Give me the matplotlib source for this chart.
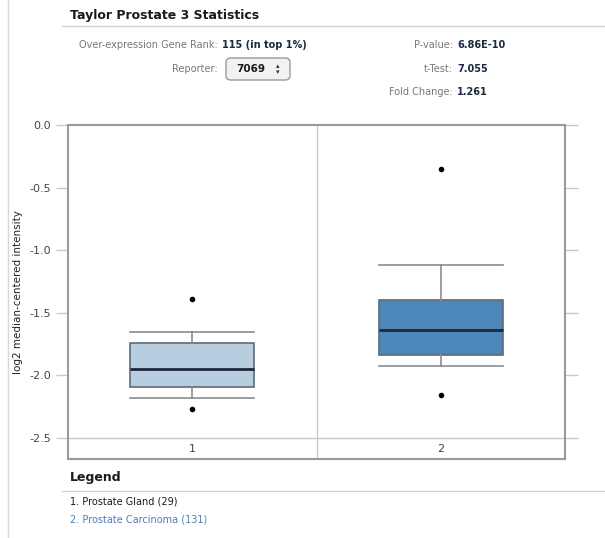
import matplotlib.pyplot as plt
from matplotlib.patches import FancyBboxPatch
from matplotlib.lines import Line2D

plt.rcParams['font.family'] = ['DejaVu Sans']

# box statistics per group
groups = ['1', '2']
whis_hi = [-1.656, -1.118]
q3 = [-1.744, -1.398]
medians = [-1.949, -1.640]
q1 = [-2.090, -1.837]
whis_lo = [-2.181, -1.922]
outliers = [[-1.39, -2.268], [-0.351, -2.154]]
box_colors = ['#b7cde0', '#4d86b8']

legend_names = ['1. Prostate Gland (29)', '2. Prostate Carcinoma (131)']
legend_colors = ['#1a1a1a', '#4a7fb5']

stats_left = [('Over-expression Gene Rank:', '115 (in top 1%)')]
reporter = '7069'
stats_right = [('P-value:', '6.86E-10'), ('t-Test:', '7.055'), ('Fold Change:', '1.261')]

W, H = 605, 538
fig = plt.figure(figsize=(W / 100, H / 100), dpi=100)


def fx(px):
    return px / W


def fy(py):
    return 1 - py / H


ax = fig.add_axes([fx(68), fy(459), fx(565) - fx(68), fy(125) - fy(459)])

bstats = []
for i in range(len(groups)):
    bstats.append(dict(med=medians[i], q1=q1[i], q3=q3[i], whislo=whis_lo[i],
                       whishi=whis_hi[i], fliers=outliers[i], label=groups[i]))

bp = ax.bxp(bstats, positions=[1, 2], widths=0.5, patch_artist=True,
            boxprops=dict(edgecolor='#5f6b78', linewidth=1.2),
            medianprops=dict(color='#1b2838', linewidth=2),
            whiskerprops=dict(color='#8c8c8c', linewidth=1.2),
            capprops=dict(color='#8c8c8c', linewidth=1.2),
            capwidths=0.5,
            flierprops=dict(marker='o', markersize=3, markerfacecolor='black',
                            markeredgecolor='black'))
for patch, c in zip(bp['boxes'], box_colors):
    patch.set_facecolor(c)

ax.set_xlim(0.5, 2.5)
ax.set_ylim(-2.668, 0)
ax.axvline(1.5, color='#c8c8c8', linewidth=1)
ax.axhline(-2.5, color='#c8c8c8', linewidth=1)

ax.set_yticks([0, -0.5, -1.0, -1.5, -2.0, -2.5])
ax.set_yticklabels(['0.0', '-0.5', '-1.0', '-1.5', '-2.0', '-2.5'])
ax.tick_params(axis='y', which='both', direction='out', length=9, width=1,
               color='#c8c8c8', labelsize=8, labelcolor='#444444', right=True, pad=3)
ax.set_xticks([])
for x, g in zip([1, 2], groups):
    ax.text(x, -2.585, g, ha='center', va='center', fontsize=8, color='#444444')

for s in ax.spines.values():
    s.set_color('#9a9a9a')
    s.set_linewidth(1.5)

ax.set_ylabel('log2 median-centered intensity', fontsize=7.5, color='#222222', labelpad=5)

# header block
fig.text(fx(70), fy(15), 'Taylor Prostate 3 Statistics', fontsize=9, fontweight='bold',
         color='#1a1a1a', va='center')
fig.add_artist(Line2D([fx(62), 1], [fy(26), fy(26)], color='#d0d0d0', linewidth=1))
fig.add_artist(Line2D([fx(8), fx(8)], [0, 1], color='#d8d8d8', linewidth=1))

for lab, val in stats_left:
    fig.text(fx(218), fy(45), lab, ha='right', va='center', fontsize=7, color='#777777')
    fig.text(fx(222), fy(45), val, ha='left', va='center', fontsize=7,
             fontweight='bold', color='#1a2a40')

fig.text(fx(218), fy(69), 'Reporter:', ha='right', va='center', fontsize=7, color='#777777')
fig.add_artist(FancyBboxPatch((fx(226), fy(80)), fx(290) - fx(226), fy(58) - fy(80),
                              boxstyle='round,pad=0,rounding_size=0.008',
                              facecolor='#f2f2f2', edgecolor='#9a9a9a', linewidth=1,
                              transform=fig.transFigure))
fig.text(fx(236), fy(69), reporter, ha='left', va='center', fontsize=7.5,
         fontweight='bold', color='#1a1a1a')
fig.text(fx(278), fy(66), '▴', ha='center', va='center', fontsize=5, color='#333333')
fig.text(fx(278), fy(72), '▾', ha='center', va='center', fontsize=5, color='#333333')

for k, (lab, val) in enumerate(stats_right):
    y = [45, 69, 92][k]
    fig.text(fx(453), fy(y), lab, ha='right', va='center', fontsize=7, color='#777777')
    fig.text(fx(457), fy(y), val, ha='left', va='center', fontsize=7,
             fontweight='bold', color='#1a2a40')

# legend block
fig.text(fx(70), fy(478), 'Legend', fontsize=9, fontweight='bold', color='#1a1a1a', va='center')
fig.add_artist(Line2D([fx(62), 1], [fy(491), fy(491)], color='#d0d0d0', linewidth=1))
for k, (name, c) in enumerate(zip(legend_names, legend_colors)):
    fig.text(fx(70), fy(502 + 18 * k), name, fontsize=7, color=c, va='center')

fig.savefig('out.png', dpi=100)
